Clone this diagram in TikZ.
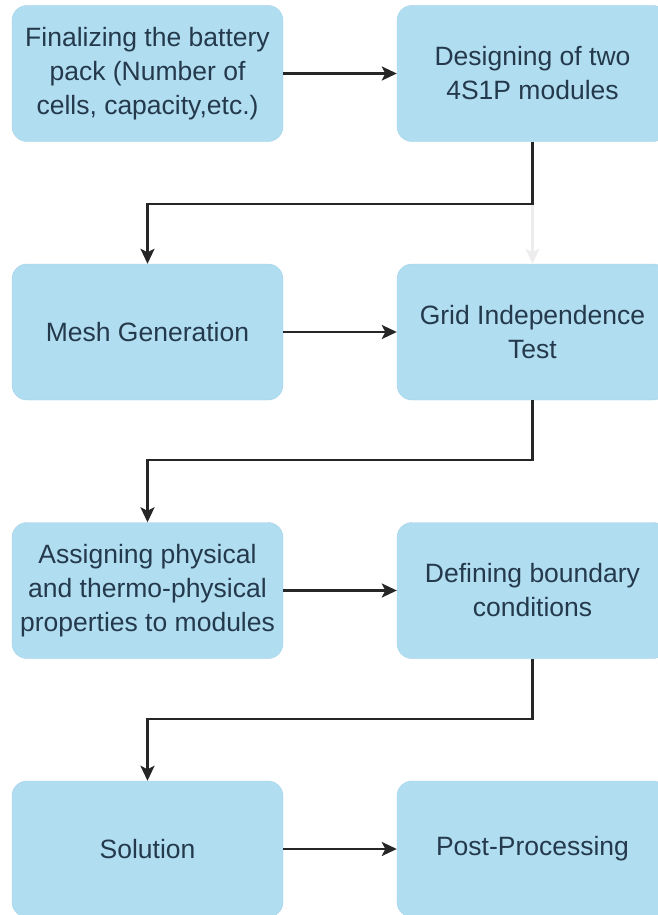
\documentclass[tikz,border=0pt]{standalone}
\usepackage{fontspec}
\setmainfont{Liberation Sans}
\usepackage{xcolor}
\usetikzlibrary{arrows.meta}
\definecolor{boxfill}{HTML}{B1DDF0}
\definecolor{boxline}{HTML}{A3D2E8}
\definecolor{boxtext}{HTML}{243A4C}
\tikzset{>={Stealth[length=15pt,width=14pt,inset=3.5pt]}}

\begin{document}
\begin{tikzpicture}[x=1pt, y=-1pt]
\tikzset{stepbox/.style={draw=boxline, fill=boxfill, rounded corners=15pt, minimum width=271pt, minimum height=136pt, inner sep=0pt, align=center, text=boxtext, font=\fontsize{26.5}{34}\selectfont}}
\tikzset{flow/.style={->, line width=2.4pt, black!85}}
    \useasboundingbox (0,0) rectangle (658,915);
    \clip (0,0) rectangle (658,915);

    \node[stepbox] (pack) at (147.5,73.5) {Finalizing the battery\\pack (Number of\\cells, capacity,etc.)};
    \node[stepbox] (design) at (532.5,73.5) {Designing of two\\4S1P modules};

    \node[stepbox] (mesh) at (147.5,332) {Mesh Generation};
    \node[stepbox] (grid) at (532.5,332) {Grid Independence\\Test};

    \node[stepbox] (assign) at (147.5,590.5) {Assigning physical\\and thermo-physical\\properties to modules};
    \node[stepbox] (bound) at (532.5,590.5) {Defining boundary\\conditions};

    \node[stepbox] (solution) at (147.5,849) {Solution};
    \node[stepbox] (post) at (532.5,849) {Post-Processing};
% % % % % % % % % % % % % % % % % % %
    \draw[flow, black!7] (design.south) -- (grid.north);

    \draw[flow] (pack.east) -- (design.west);
    \draw[flow] (design.south) -- ++(0,62) -| (mesh.north);
    \draw[flow] (mesh.east) -- (grid.west);
    \draw[flow] (grid.south) -- ++(0,60) -| (assign.north);
    \draw[flow] (assign.east) -- (bound.west);
    \draw[flow] (bound.south) -- ++(0,60) -| (solution.north);
    \draw[flow] (solution.east) -- (post.west);
\end{tikzpicture}
\end{document}
